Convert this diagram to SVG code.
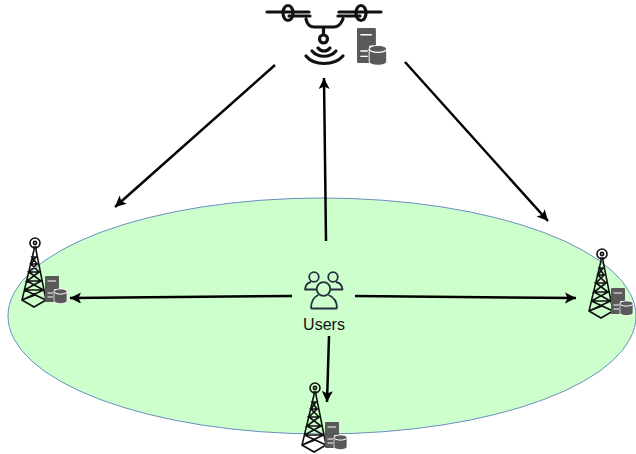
<svg xmlns="http://www.w3.org/2000/svg" width="636" height="454" viewBox="0 0 636 454">
<style>
.conn{fill:none;stroke:#000;stroke-width:2.500}
.tw{fill:none;stroke:#111;stroke-width:1.600}
.sv{fill:#595959}
.wl{fill:none;stroke:#fff;stroke-width:1}
.dr{fill:none;stroke:#111;stroke-width:3.200;stroke-linecap:round}
.us{fill:none;stroke:#232f3e;stroke-width:1.800;stroke-linejoin:round}
</style>
<defs>
<marker id="ah" markerUnits="userSpaceOnUse" markerWidth="14" markerHeight="12" refX="11" refY="5.500" orient="auto"><path d="M0 0L11 5.500L0 11L2.500 5.500Z" fill="#000"/></marker>
<g id="tower">
<circle cx="0" cy="0" r="5" class="tw"/>
<circle cx="0" cy="0" r="1.600" class="tw"/>
<path class="tw" d="M-1 3V7L-13 57L-1 64L11 57L1 7V3M-13 57L0 52L11 57M-10.500 47H8.500L-8 38H6L-6 29H4L-4 21H2L-3 14H1M8.500 47L-10.500 47L6 38H-8L4 29H-6L2 21H-4L1 14H-3M-13 57L8.500 47M11 57L-10.500 47"/>
</g>
<g id="server">
<rect x="0" y="0" width="14" height="26" rx="1" class="sv"/>
<path class="wl" d="M2.500 5H11M2.500 17H8M2.500 21H8"/>
<rect x="9" y="13" width="13" height="14" rx="1" fill="#fff"/>
<path class="sv" d="M9 15.500a6.500 2.600 0 0 1 13 0V25a6.500 2.600 0 0 1-13 0Z" stroke="#fff" stroke-width="0.700"/>
<path class="wl" d="M9 15.500a6.500 2.600 0 0 0 13 0"/>
</g>
</defs>
<ellipse id="coverage" cx="322" cy="316" rx="314" ry="118" fill="#ccffcc" stroke="#6c8ebf" stroke-width="1"/>
<g id="connectors">
<path class="conn" marker-end="url(#ah)" d="M275 65L115 207"/>
<path class="conn" marker-end="url(#ah)" d="M326 241L324 78"/>
<path class="conn" marker-end="url(#ah)" d="M405 62L548 221"/>
<path class="conn" marker-end="url(#ah)" d="M292 296L70 298"/>
<path class="conn" marker-end="url(#ah)" d="M355 296L576 298"/>
<path class="conn" marker-end="url(#ah)" d="M329 336L327 402"/>
</g>
<g id="drone">
<path class="dr" d="M267 12H309M339 12H381M289 16H310M338 16H360M306 19C307 24 309 27 314 27H334C339 27 341 24 343 19M323.500 27V34"/>
<ellipse cx="288" cy="13" rx="5" ry="7.500" class="dr"/>
<ellipse cx="361" cy="13" rx="5" ry="7.500" class="dr"/>
<circle cx="323.500" cy="39" r="4" class="dr"/>
<path class="dr" d="M318 48C321 52 327 52 330 48M312 51C318 58 330 58 336 51M306 56C314 66 334 66 343 56"/>
<g transform="translate(357 28) scale(1.350)"><use href="#server"/></g>
</g>
<g id="tower-left"><use href="#tower" x="35" y="243"/><use href="#server" x="45" y="276"/></g>
<g id="tower-right"><use href="#tower" x="602" y="254"/><use href="#server" x="611" y="288"/></g>
<g id="tower-bottom"><use href="#tower" x="315" y="388"/><use href="#server" x="325" y="422"/></g>
<g id="users">
<circle cx="314" cy="277" r="4.800" class="us"/>
<circle cx="333" cy="277" r="4.800" class="us"/>
<path class="us" d="M317 289.500H305C305.500 285 308 282.500 311 282M329 289.500H342.500C342 285 339 282.500 336 282"/>
<circle cx="323.500" cy="289" r="6.800" fill="#ccffcc" stroke="#232f3e" stroke-width="1.800"/>
<path class="us" d="M311 308.500C311 300 314.500 296.500 318.500 295M337 308.500C337 300 332.500 296.500 328.500 295M311 308.500H337"/>
<text x="324" y="330" text-anchor="middle" font-family="'Liberation Sans',Arial,sans-serif" font-size="16" fill="#111">Users</text>
</g>
</svg>
